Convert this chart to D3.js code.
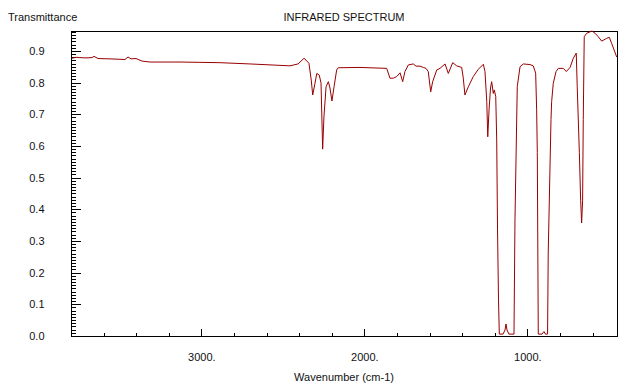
<!DOCTYPE html>
<html>
<head>
<meta charset="utf-8">
<script src="https://cdn.jsdelivr.net/npm/d3@7"></script>
<style>
  body { margin: 0; background: #fff; }
  text { font-family: "Liberation Sans", Arial, sans-serif; font-size: 11px; fill: #111; }
</style>
</head>
<body>
<svg width="639" height="387"></svg>
<script>
// wavenumber (cm-1) and transmittance
var wavenumbers = [3794, 3769, 3745, 3708, 3671, 3659, 3634, 3561, 3469, 3450, 3432, 3401, 3364, 3315, 3131, 3009, 2886, 2702, 2456, 2407,
  2370, 2358, 2340, 2326, 2317, 2303, 2292, 2277, 2266, 2256, 2248, 2235, 2221, 2211, 2199, 2186, 2170, 2160, 2027, 1863,
  1843, 1822, 1802, 1781, 1765, 1751, 1730, 1700, 1683, 1659, 1638, 1622, 1608, 1593, 1581, 1556, 1536, 1505, 1485, 1458,
  1434, 1403, 1393, 1383, 1362, 1332, 1301, 1270, 1260, 1249, 1243, 1235, 1226, 1219, 1209, 1203, 1194, 1188, 1183, 1177,
  1172, 1149, 1137, 1131, 1125, 1113, 1082, 1076, 1062, 1045, 1025, 984, 964, 949, 943, 939, 933, 910, 898, 889,
  876, 872, 855, 851, 841, 824, 810, 779, 761, 738, 718, 700, 694, 681, 673, 667, 661, 657, 651, 636,
  603, 585, 565, 544, 513, 497, 483, 472, 452];
var transmittance = [0.877, 0.880, 0.879, 0.878, 0.879, 0.883, 0.876, 0.875, 0.873, 0.881, 0.875, 0.876, 0.868, 0.865, 0.865, 0.864, 0.863, 0.859, 0.853, 0.859,
  0.877, 0.871, 0.861, 0.808, 0.761, 0.798, 0.829, 0.824, 0.799, 0.590, 0.692, 0.787, 0.803, 0.783, 0.742, 0.787, 0.840, 0.847, 0.848, 0.845,
  0.814, 0.814, 0.819, 0.831, 0.803, 0.835, 0.856, 0.859, 0.852, 0.852, 0.848, 0.845, 0.835, 0.771, 0.803, 0.840, 0.845, 0.859, 0.829, 0.863,
  0.853, 0.848, 0.814, 0.761, 0.787, 0.819, 0.842, 0.858, 0.835, 0.740, 0.629, 0.714, 0.783, 0.803, 0.766, 0.777, 0.756, 0.619, 0.335, 0.114,
  0.006, 0.006, 0.019, 0.038, 0.019, 0.006, 0.006, 0.366, 0.787, 0.850, 0.859, 0.857, 0.853, 0.830, 0.714, 0.579, 0.006, 0.006, 0.014, 0.006,
  0.006, 0.262, 0.683, 0.740, 0.798, 0.835, 0.845, 0.845, 0.835, 0.848, 0.877, 0.893, 0.787, 0.579, 0.429, 0.357, 0.429, 0.683, 0.945, 0.956,
  0.963, 0.956, 0.945, 0.931, 0.940, 0.943, 0.924, 0.909, 0.881];

var x_major = [3000, 2000, 1000];
var x_minor = [3600, 3400, 3200, 2800, 2600, 2400, 2200, 1800, 1600, 1400, 1200, 800, 600];
var y_major = [0.0, 0.1, 0.2, 0.3, 0.4, 0.5, 0.6, 0.7, 0.8, 0.9];

const LEFT = 71, RIGHT = 617, TOP = 31, BOTTOM = 336;

var svg = d3.select("svg");

var x = d3.scaleLinear().domain([3800, 450]).range([LEFT, RIGHT]);
var y = d3.scaleLinear().domain([0, 0.963]).range([BOTTOM, TOP]);

var y_minor = d3.range(0, 97).map(function (i) { return i / 100; })
  .filter(function (v, i) { return i % 10 !== 0; });

// frame
svg.append("rect")
  .attr("x", LEFT + 0.5).attr("y", TOP + 0.5)
  .attr("width", RIGHT - LEFT).attr("height", BOTTOM - TOP)
  .attr("fill", "none").attr("stroke", "#000");

function style_axis(g) {
  g.select(".domain").remove();
  g.selectAll("line").attr("stroke", "#000").attr("shape-rendering", "crispEdges");
  g.selectAll("text").attr("font-family", null).attr("font-size", null).attr("fill", "#111");
}

// x axis, ticks pointing into the plot
svg.append("g")
  .attr("transform", "translate(0," + (BOTTOM + 0.5) + ")")
  .call(d3.axisBottom(x).tickValues(x_major).tickSize(-8).tickPadding(17)
    .tickFormat(function (d) { return d + "."; }))
  .call(style_axis);
svg.append("g")
  .attr("transform", "translate(0," + (BOTTOM + 0.5) + ")")
  .call(d3.axisBottom(x).tickValues(x_minor).tickSize(-4).tickFormat(""))
  .call(style_axis);

// y axis
svg.append("g")
  .attr("transform", "translate(" + (LEFT + 0.5) + ",0)")
  .call(d3.axisLeft(y).tickValues(y_major).tickSize(-9).tickPadding(27)
    .tickFormat(d3.format(".1f")))
  .call(style_axis);
svg.append("g")
  .attr("transform", "translate(" + (LEFT + 0.5) + ",0)")
  .call(d3.axisLeft(y).tickValues(y_minor).tickSize(-4).tickFormat(""))
  .call(style_axis);

// spectrum
var pts = wavenumbers.map(function (w, i) { return [w, transmittance[i]]; });
svg.append("path")
  .datum(pts)
  .attr("fill", "none")
  .attr("stroke", "#990000")
  .attr("stroke-width", 1)
  .attr("d", d3.line().x(function (d) { return x(d[0]); }).y(function (d) { return y(d[1]); }));

// labels
svg.append("text").attr("x", 8).attr("y", 21).text("Transmittance");
svg.append("text").attr("x", 344).attr("y", 21).attr("text-anchor", "middle").text("INFRARED SPECTRUM");
svg.append("text").attr("x", 344).attr("y", 381).attr("text-anchor", "middle").text("Wavenumber (cm-1)");
</script>
</body>
</html>
